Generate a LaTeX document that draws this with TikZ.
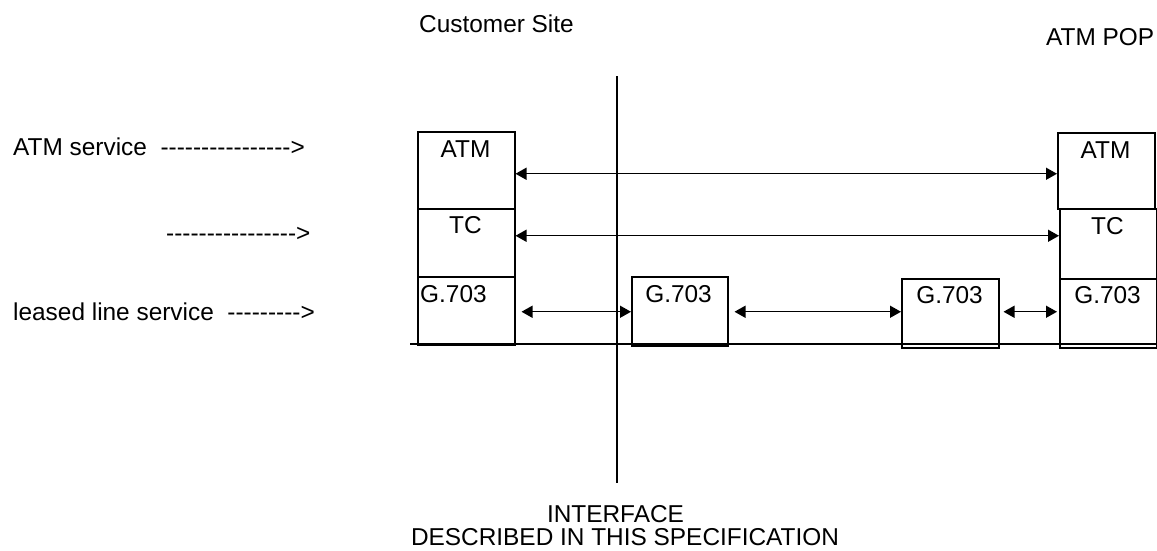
\documentclass[tikz,border=0pt]{standalone}
\usepackage{fontspec}
\setmainfont{Liberation Sans}[Ligatures=TeXOff]
\usetikzlibrary{arrows.meta}
\begin{document}
\begin{tikzpicture}[x=1pt,y=-1pt,
  every node/.style={inner sep=0pt, font=\fontsize{24.4}{23}\selectfont},
  box/.style={draw, line width=1.5pt, rectangle, anchor=north west},
  lbl/.style={anchor=base},
  txt/.style={anchor=base west},
  biarrow/.style={line width=1.4pt, {Triangle[length=11pt,width=12pt]}-{Triangle[length=11pt,width=12pt]}},
  plain/.style={line width=1.5pt}]
\useasboundingbox (0,0) rectangle (1157,550);
% left stack
\node[box, minimum width=97, minimum height=77] (latm) at (417,131) {};
\node[box, minimum width=97, minimum height=68] (ltc) at (417,208) {};
\node[box, minimum width=97, minimum height=68] (lg) at (417,276) {};
% middle boxes
\node[box, minimum width=96, minimum height=69] (m1) at (631,276) {};
\node[box, minimum width=97, minimum height=69] (m2) at (901,278) {};
% right stack
\node[box, minimum width=97, minimum height=76] (ratm) at (1057,132) {};
\node[box, minimum width=97, minimum height=70] (rtc) at (1059,208) {};
\node[box, minimum width=97, minimum height=69] (rg) at (1059,278) {};
% box labels
\node[lbl] (latmT) at (465.5,157) {ATM};
\node[lbl] (ltcT) at (465.5,233) {TC};
\node[txt] (lgT) at (420,302) {G.703};
\node[lbl] (m1T) at (678.5,302) {G.703};
\node[lbl] (m2T) at (949.5,303) {G.703};
\node[lbl] (ratmT) at (1105.5,158) {ATM};
\node[lbl] (rtcT) at (1107.5,234) {TC};
\node[lbl] (rgT) at (1107.5,303) {G.703};
% baseline and interface line
\coordinate (bl1) at (410,344);
\coordinate (bl2) at (1156,344);
\draw[plain] (bl1) -- (bl2);
\coordinate (v1) at (617,76);
\coordinate (v2) at (617,483);
\draw[plain] (v1) -- (v2);
% arrows
\draw[biarrow] ([yshift=-3.5pt]latm.east) -- ([yshift=-3pt]ratm.west);
\draw[biarrow] ([yshift=7pt]ltc.east) -- ([yshift=8pt]rtc.west);
\draw[biarrow, shorten <=6pt] ([yshift=-1pt]lg.east) -- ([yshift=-0.5pt]m1.west);
\draw[biarrow, shorten <=6pt] ([yshift=-0.5pt]m1.east) -- ([yshift=1.5pt]m2.west);
\draw[biarrow, shorten <=4pt, shorten >=2pt] ([yshift=1.5pt]m2.east) -- ([yshift=1.5pt]rg.west);
% headings
\node[txt] (cs) at (419,32) {Customer Site};
\node[txt] (pop) at (1046,45) {ATM POP};
\node[txt] (s1) at (13,155) {ATM service\ \ ---------------->};
\node[txt] (s2) at (166,241) {---------------->};
\node[txt] (s3) at (13,320) {leased line service\ \ --------->};
\node[lbl] (if1) at (615.5,522) {INTERFACE};
\node[lbl] (if2) at (625,545) {DESCRIBED IN THIS SPECIFICATION};
\end{tikzpicture}
\end{document}
